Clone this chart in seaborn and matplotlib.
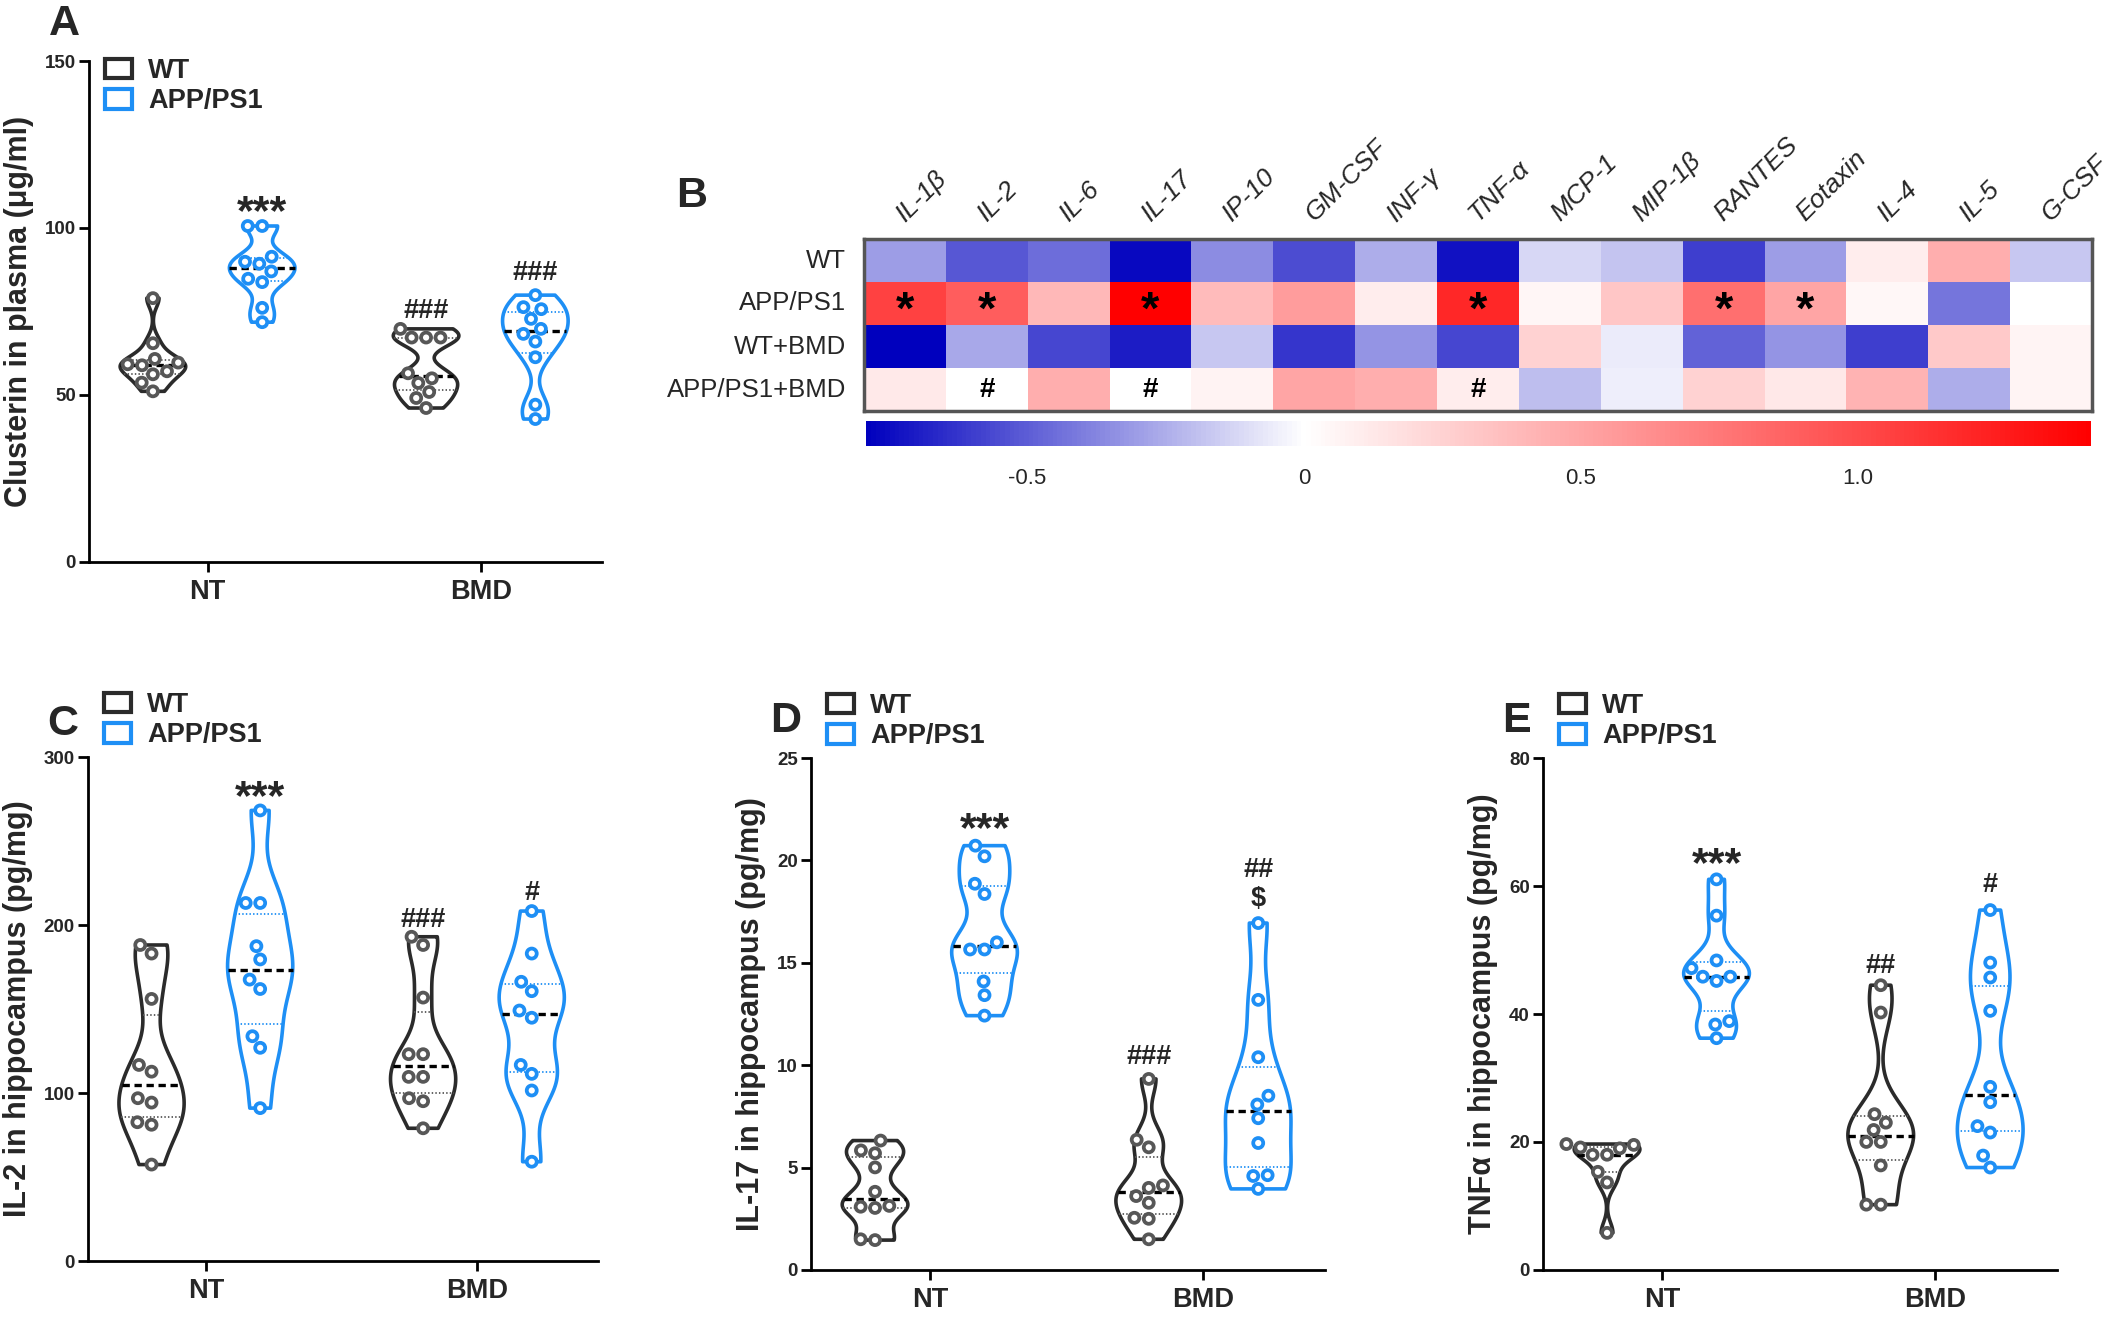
import numpy as np
import pandas as pd
import matplotlib
matplotlib.use("Agg")
import matplotlib.pyplot as plt
import seaborn as sns
from matplotlib.patches import Patch
from matplotlib.collections import PathCollection
from matplotlib.colors import LinearSegmentedColormap

# ---- data ----
treatments = ["NT", "BMD"]
genotypes = ["WT", "APP/PS1"]

clu_wt_nt = [79.0, 65.5, 60.8, 59.7, 59.2, 58.9, 57.1, 56.2, 53.7, 51.1]
clu_app_nt = [100.6, 100.6, 91.4, 89.9, 89.3, 87.0, 84.8, 83.8, 76.1, 71.8]
clu_wt_bmd = [69.8, 67.2, 67.2, 67.2, 56.5, 55.0, 53.6, 50.9, 49.1, 46.1]
clu_app_bmd = [79.9, 76.3, 75.7, 72.8, 69.8, 68.3, 66.0, 61.3, 47.1, 42.8]

il2_wt_nt = [188.1, 183.0, 156.0, 116.7, 112.7, 96.9, 94.3, 82.6, 81.1, 57.4]
il2_app_nt = [268.2, 213.1, 213.1, 187.4, 179.5, 167.5, 161.9, 133.8, 126.9, 91.0]
il2_wt_bmd = [193.0, 188.1, 156.8, 123.1, 123.1, 109.6, 109.6, 96.9, 95.1, 79.0]
il2_app_bmd = [208.3, 183.0, 166.2, 160.6, 149.1, 144.8, 116.7, 111.4, 101.5, 59.1]

il17_wt_nt = [6.32, 5.70, 5.84, 5.01, 3.82, 3.13, 3.09, 3.03, 1.50, 1.46]
il17_app_nt = [20.72, 20.2, 18.86, 18.36, 16.0, 15.65, 15.65, 14.09, 13.42, 12.42]
il17_wt_bmd = [9.33, 6.36, 5.99, 4.13, 4.01, 3.61, 3.28, 2.55, 2.50, 1.50]
il17_app_bmd = [16.94, 13.19, 10.39, 8.51, 8.08, 7.41, 6.20, 4.63, 4.59, 3.96]

tnf_wt_nt = [19.68, 19.55, 19.15, 19.01, 18.01, 18.01, 15.34, 13.68, 5.80]
tnf_app_nt = [61.04, 55.37, 48.37, 47.17, 45.83, 45.83, 45.16, 38.89, 38.36, 36.22]
tnf_wt_bmd = [44.5, 40.23, 24.35, 23.02, 21.88, 20.01, 20.01, 16.34, 10.21, 10.21]
tnf_app_bmd = [56.24, 48.03, 45.70, 40.49, 28.62, 26.22, 22.48, 21.48, 17.88, 16.01]

cytokines = ["IL-1β", "IL-2", "IL-6", "IL-17", "IP-10", "GM-CSF", "INF-γ", "TNF-α",
             "MCP-1", "MIP-1β", "RANTES", "Eotaxin", "IL-4", "IL-5", "G-CSF"]
hm_groups = ["WT", "APP/PS1", "WT+BMD", "APP/PS1+BMD"]
hm_wt = [-0.30, -0.52, -0.45, -0.76, -0.35, -0.55, -0.25, -0.73, -0.12, -0.18, -0.60, -0.30, 0.10, 0.45, -0.17]
hm_app = [1.05, 0.90, 0.40, 1.42, 0.38, 0.55, 0.10, 1.20, 0.05, 0.32, 0.80, 0.50, 0.04, -0.42, 0.0]
hm_wt_bmd = [-0.79, -0.27, -0.57, -0.70, -0.17, -0.62, -0.33, -0.57, 0.25, -0.06, -0.48, -0.33, -0.60, 0.30, 0.06]
hm_app_bmd = [0.12, 0.0, 0.45, 0.0, 0.07, 0.50, 0.45, 0.10, -0.20, -0.05, 0.25, 0.13, 0.42, -0.25, 0.06]
sig_app = ["*", "*", "", "*", "", "", "", "*", "", "", "*", "*", "", "", ""]
sig_app_bmd = ["", "#", "", "#", "", "", "", "#", "", "", "", "", "", "", ""]

WT_LINE = "#2b2b2b"
WT_DOT = "#575757"
APP = "#1e8ff5"

sns.set_style("ticks")
plt.rcParams["font.family"] = ["Liberation Sans", "DejaVu Sans"]

W, H = 2115, 1319
fig = plt.figure(figsize=(W / 100, H / 100), dpi=100)


def add_ax(left, top, right, bottom):
    return fig.add_axes([left / W, 1 - bottom / H, (right - left) / W, (bottom - top) / H])


def long_df(wt_nt, app_nt, wt_bmd, app_bmd):
    rows = []
    for t, g, vals in [("NT", "WT", wt_nt), ("NT", "APP/PS1", app_nt),
                       ("BMD", "WT", wt_bmd), ("BMD", "APP/PS1", app_bmd)]:
        for v in vals:
            rows.append((t, g, v))
    return pd.DataFrame(rows, columns=["treat", "geno", "value"])


def violin_panel(ax, df, ylabel, yticks, marks, leg_xy):
    sns.violinplot(data=df, x="treat", y="value", hue="geno", order=treatments,
                   hue_order=genotypes, palette={"WT": WT_LINE, "APP/PS1": APP},
                   fill=False, inner="quart", cut=0, density_norm="width",
                   width=0.8, gap=0.4, linewidth=2.6, bw_adjust=0.55,
                   legend=False, ax=ax)
    # restyle quartile lines: median black dashed, quartiles dotted
    pos = {(-0.2): ("NT", "WT"), 0.2: ("NT", "APP/PS1"),
           0.8: ("BMD", "WT"), 1.2: ("BMD", "APP/PS1")}
    for ln in ax.lines:
        xm = np.mean(ln.get_xdata())
        key = min(pos, key=lambda p: abs(p - xm))
        t, g = pos[key]
        vals = df[(df.treat == t) & (df.geno == g)]["value"]
        y = ln.get_ydata()[0]
        if abs(y - np.median(vals)) < 1e-6 * max(1, abs(y)) + 1e-9:
            ln.set_color("black")
            ln.set_linewidth(2.4)
            ln.set_linestyle((0, (2.2, 1.4)))
        else:
            ln.set_color(WT_DOT if g == "WT" else APP)
            ln.set_linewidth(1.3)
            ln.set_linestyle((0, (0.8, 1.2)))
    n_before = len(ax.collections)
    sns.swarmplot(data=df, x="treat", y="value", hue="geno", order=treatments,
                  hue_order=genotypes, palette={"WT": WT_DOT, "APP/PS1": APP},
                  dodge=True, size=7.2, linewidth=2.7, legend=False, ax=ax)
    for c in ax.collections[n_before:]:
        if isinstance(c, PathCollection):
            fc = np.array(c.get_facecolor())
            c.set_edgecolor(fc)
            c.set_facecolor("white")
            c.set_zorder(3)

    ax.set_xlim(-0.434, 1.444)
    ax.set_ylim(yticks[0], yticks[-1])
    ax.set_yticks(yticks)
    ax.set_yticklabels([str(v) for v in yticks], fontsize=13.5, fontweight="bold")
    ax.set_xticks([0, 1])
    ax.set_xticklabels(treatments, fontsize=19.5, fontweight="bold")
    ax.set_xlabel("")
    ax.set_ylabel(ylabel, fontsize=22, fontweight="bold", labelpad=8)
    sns.despine(ax=ax)
    for s in ["left", "bottom"]:
        ax.spines[s].set_linewidth(2.0)
        ax.spines[s].set_color("black")
    ax.tick_params(axis="both", width=2.0, length=7.5, color="black")
    ax.tick_params(axis="y", pad=2)
    ax.tick_params(axis="x", pad=5)

    offs = {0: -0.2, 1: 0.2}
    for ti, gi, txt, dy, fs in marks:
        t = treatments[ti]
        g = genotypes[gi]
        top = df[(df.treat == t) & (df.geno == g)]["value"].max()
        ax.annotate(txt, xy=(ti + offs[gi], top), xytext=(0, dy),
                    textcoords="offset points", ha="center", va="center",
                    fontsize=fs, fontweight="bold", annotation_clip=False)

    handles = [Patch(facecolor="none", edgecolor=WT_LINE, linewidth=3),
               Patch(facecolor="none", edgecolor=APP, linewidth=3)]
    ax.legend(handles, genotypes, loc="upper left",
              bbox_to_anchor=(leg_xy[0] / W, 1 - leg_xy[1] / H),
              bbox_transform=fig.transFigure, frameon=False,
              prop={"weight": "bold", "size": 19.5}, handlelength=1.0,
              handleheight=0.75, handletextpad=0.6, labelspacing=0.15,
              borderaxespad=0, borderpad=0)


# ---- panel A ----
axA = add_ax(89, 61, 602, 562)
violin_panel(axA, long_df(clu_wt_nt, clu_app_nt, clu_wt_bmd, clu_app_bmd),
             "Clusterin in plasma (μg/ml)", [0, 50, 100, 150],
             [(0, 1, "***", 9, 31), (1, 0, "###", 13, 19.5), (1, 1, "###", 16, 19.5)],
             (105, 58))

# ---- panel C ----
axC = add_ax(88, 757, 598, 1261)
violin_panel(axC, long_df(il2_wt_nt, il2_app_nt, il2_wt_bmd, il2_app_bmd),
             "IL-2 in hippocampus (pg/mg)", [0, 100, 200, 300],
             [(0, 1, "***", 9, 31), (1, 0, "###", 12, 19.5), (1, 1, "#", 13, 19.5)],
             (104, 692))

# ---- panel D ----
axD = add_ax(811, 758, 1325, 1270)
violin_panel(axD, long_df(il17_wt_nt, il17_app_nt, il17_wt_bmd, il17_app_bmd),
             "IL-17 in hippocampus (pg/mg)", [0, 5, 10, 15, 20, 25],
             [(0, 1, "***", 11, 31), (1, 0, "###", 16, 19.5), (1, 1, "$", 17, 19.5),
              (1, 1, "##", 38, 19.5)],
             (827, 693))

# ---- panel E ----
axE = add_ax(1543, 758, 2057, 1270)
violin_panel(axE, long_df(tnf_wt_nt, tnf_app_nt, tnf_wt_bmd, tnf_app_bmd),
             "TNFα in hippocampus (pg/mg)", [0, 20, 40, 60, 80],
             [(0, 1, "***", 10, 31), (1, 0, "##", 14, 19.5), (1, 1, "#", 18, 19.5)],
             (1559, 693))

# ---- panel B heatmap ----
axB = add_ax(864, 239, 2092, 411)
cax = add_ax(866, 421, 2091, 446)
hm = pd.DataFrame([hm_wt, hm_app, hm_wt_bmd, hm_app_bmd], index=hm_groups, columns=cytokines)
blank = [""] * len(cytokines)
annot = pd.DataFrame([blank, sig_app, blank, sig_app_bmd], index=hm_groups, columns=cytokines)
vmin, vmax = -0.79, 1.42
cmap = LinearSegmentedColormap.from_list(
    "bwr_custom", [(0.0, "#0000be"), (-vmin / (vmax - vmin), "#ffffff"), (1.0, "#ff0000")])
sns.heatmap(hm, ax=axB, cmap=cmap, vmin=vmin, vmax=vmax, annot=annot, fmt="",
            annot_kws={"color": "black", "fontweight": "bold", "fontsize": 34},
            cbar_ax=cax, cbar_kws={"orientation": "horizontal", "ticks": [-0.5, 0, 0.5, 1.0]})
for t in axB.texts:
    if t.get_text() == "#":
        t.set_fontsize(20)
    elif t.get_text() == "*":
        x, y = t.get_position()
        t.set_position((x, y + 0.2))
for s in axB.spines.values():
    s.set_visible(True)
    s.set_color("#555555")
    s.set_linewidth(2.5)
axB.xaxis.tick_top()
axB.tick_params(axis="both", length=0)
axB.tick_params(axis="x", pad=12)
axB.tick_params(axis="y", pad=13)
axB.set_xticklabels(cytokines, rotation=45, ha="left", va="baseline",
                    rotation_mode="anchor", fontstyle="italic", fontsize=19)
axB.set_yticklabels(hm_groups, rotation=0, fontsize=18.5)
axB.set_xlabel("")
axB.set_ylabel("")
cbar = axB.collections[0].colorbar
cbar.outline.set_visible(False)
cbar.ax.set_xticklabels(["-0.5", "0", "0.5", "1.0"], fontsize=16)
cbar.ax.tick_params(axis="x", direction="in", color="white", width=2.5, length=7,
                    top=True, bottom=True, pad=16)

# ---- panel letters ----
for letter, (x, y) in {"A": (64, 24), "B": (692, 196), "C": (63, 724),
                       "D": (786, 721), "E": (1516, 721)}.items():
    fig.text(x / W, 1 - y / H, letter, fontsize=31, fontweight="bold",
             ha="center", va="center")

fig.savefig("out.png", dpi=100)
